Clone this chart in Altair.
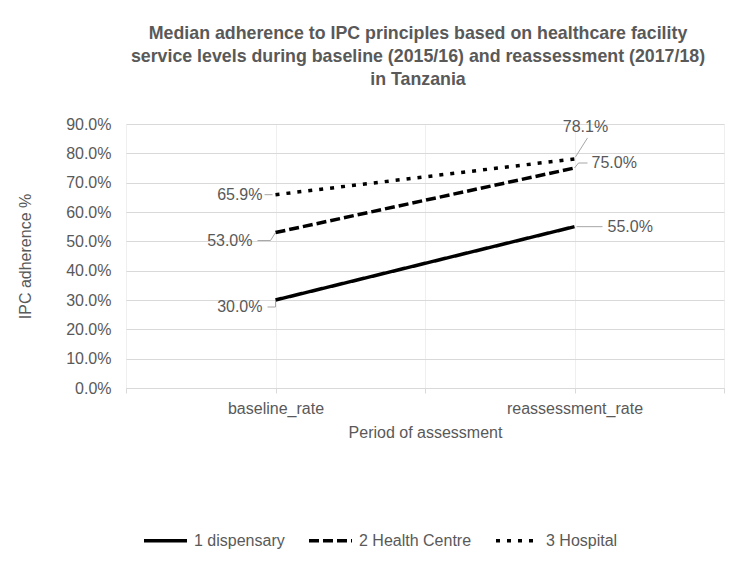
import altair as alt
import pandas as pd

periods = ["baseline_rate", "reassessment_rate"]
facilities = ["1 dispensary", "2 Health Centre", "3 Hospital"]
dispensary = [0.300, 0.550]
health_centre = [0.530, 0.750]
hospital = [0.659, 0.781]
y_ticks = [0.0, 0.1, 0.2, 0.3, 0.4, 0.5, 0.6, 0.7, 0.8, 0.9]

rows = []
for fac, vals in zip(facilities, [dispensary, health_centre, hospital]):
    for i, (per, v) in enumerate(zip(periods, vals)):
        rows.append({"facility": fac, "period": per, "pos": i + 0.5, "value": v})
df = pd.DataFrame(rows)

GREY = "#595959"
FONT = "Liberation Sans"

tick_vals = [k * 0.5 for k in range(2 * len(periods) + 1)]
label_expr = " : ".join(
    f"datum.value == {i + 0.5} ? '{p}'" for i, p in enumerate(periods)
) + " : ''"

X = alt.X(
    "pos:Q",
    scale=alt.Scale(domain=[0, len(periods)], nice=False, zero=False),
    axis=alt.Axis(
        values=tick_vals, labelExpr=label_expr, title="Period of assessment",
        grid=True, gridColor="#efefef", domainColor="#d9d9d9", tickColor="#d9d9d9",
        tickSize=5, labelFontSize=16, labelColor=GREY, titleColor=GREY,
        titleFontWeight="normal", titleFontSize=16, labelPadding=7, titlePadding=8,
        labelOverlap=False, labelFlush=False,
    ),
)
Y = alt.Y(
    "value:Q",
    scale=alt.Scale(domain=[0, 0.9], nice=False),
    axis=alt.Axis(
        values=y_ticks, format=".1%", title="IPC adherence %", ticks=False, domain=False,
        gridColor="#d9d9d9", labelFontSize=16, labelColor=GREY, titleColor=GREY,
        titleFontWeight="normal", titleFontSize=16, labelPadding=15, titlePadding=32,
    ),
)

base = alt.Chart(df)

lines = base.mark_line(strokeWidth=3.5, color="black", strokeCap="butt").encode(
    x=X, y=Y,
    strokeDash=alt.StrokeDash(
        "facility:N",
        scale=alt.Scale(domain=facilities, range=[[1, 0], [10, 4], [4, 7]]),
        legend=alt.Legend(
            title=None, orient="none", legendX=16, legendY=393, direction="horizontal",
            symbolType="stroke", symbolSize=1850, symbolStrokeWidth=3.5,
            symbolStrokeColor="black", labelFontSize=16, labelColor=GREY,
            columnPadding=16, labelOffset=5,
        ),
    ),
)


def sel(fac, per):
    return (alt.datum.facility == fac) & (alt.datum.period == per)


def label(fac, per, dx, dy, align):
    return base.transform_filter(sel(fac, per)).mark_text(
        dx=dx, dy=dy, align=align, baseline="middle", fontSize=16, color=GREY, font=FONT
    ).encode(x=X, y=Y, text=alt.Text("value:Q", format=".1%"))


def leader(fac, per, xo, yo, x2o, y2o):
    return base.transform_filter(sel(fac, per)).mark_rule(
        color="#a6a6a6", strokeWidth=1, xOffset=xo, yOffset=yo, x2Offset=x2o, y2Offset=y2o
    ).encode(x=X, y=Y, x2="pos:Q", y2="value:Q")


b, r = periods
d, h, ho = facilities
layers = [
    lines,
    label(ho, b, -13, 0, "right"), leader(ho, b, -11, 0, -3, 0),
    label(h, b, -23, 8, "right"), leader(h, b, -18, 8, -5, 8), leader(h, b, -5, 8, 0, 0),
    label(d, b, -13, 7, "right"), leader(d, b, -8, 7, 0, 7), leader(d, b, 0, 7, 0, 1),
    label(ho, r, 11, -32, "center"), leader(ho, r, 13, -21, 1, -2),
    label(h, r, 17, -5, "left"), leader(h, r, 0, 0, 4, -5), leader(h, r, 4, -5, 13, -5),
    label(d, r, 33, 0, "left"), leader(d, r, 2, 0, 28, 0),
]

chart = alt.layer(*layers).properties(
    width=598, height=264,
    autosize="none",
    padding={"left": 118, "top": 116, "right": 22, "bottom": 168},
    title=alt.Title(
        ["Median adherence to IPC principles based on healthcare facility",
         "service levels during baseline (2015/16) and reassessment (2017/18)",
         "in Tanzania"],
        fontSize=17.8, fontWeight="bold", color=GREY, anchor="middle", dx=-7,
        offset=27, lineHeight=23, font=FONT,
    ),
).configure(font=FONT).configure_view(stroke=None)

chart.save("out.html", embed_options={"renderer": "svg", "actions": False})
